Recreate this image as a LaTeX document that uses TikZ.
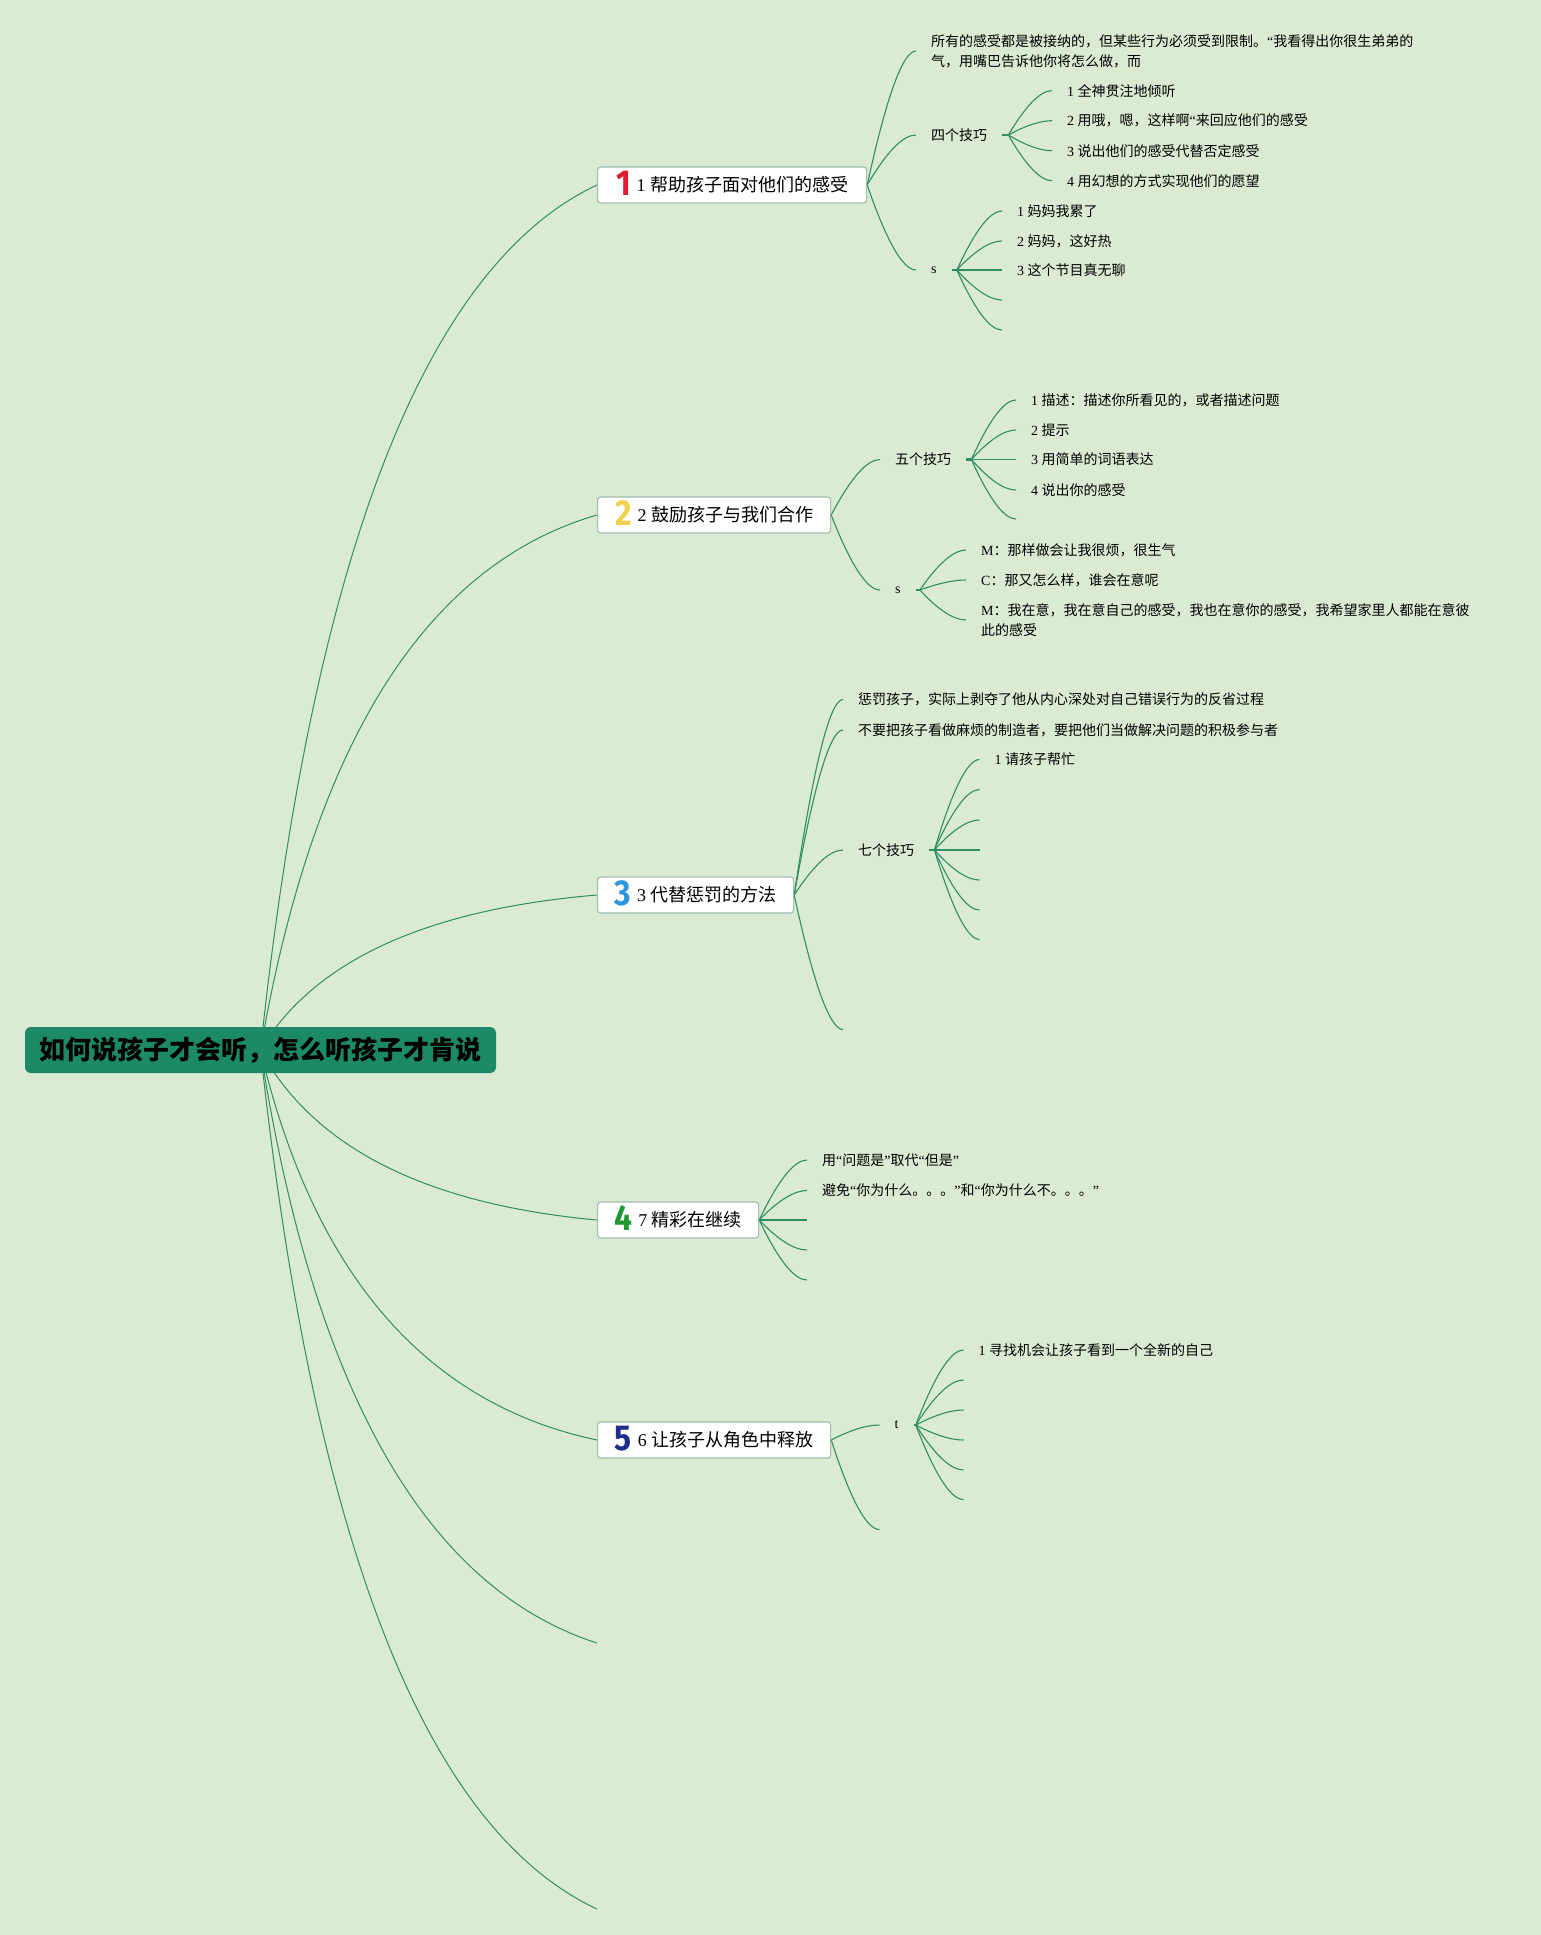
\documentclass[tikz,border=0pt]{standalone}
\usepackage{fontspec}
\usepackage{graphicx}
\setmainfont{Noto Sans CJK SC}
\newfontfamily\lt{Liberation Serif}
\newfontfamily\badgefont{Fira Sans}
\usetikzlibrary{calc}
\definecolor{bgc}{RGB}{219,234,210}
\definecolor{linec}{RGB}{46,143,98}
\definecolor{rootc}{RGB}{28,138,102}
\definecolor{boxborder}{RGB}{160,190,175}
\definecolor{bred}{RGB}{224,26,47}
\definecolor{byellow}{RGB}{242,208,74}
\definecolor{bblue}{RGB}{43,150,222}
\definecolor{bgreen}{RGB}{30,154,51}
\definecolor{bnavy}{RGB}{31,46,138}
\newcommand{\badge}[2]{\smash{\raisebox{-4pt}{\color{#1}\scalebox{0.88}[1]{\fontsize{36}{36}\selectfont\badgefont\bfseries #2}}}}
\pgfdeclarelayer{bgl}
\pgfdeclarelayer{lines}
\pgfsetlayers{bgl,lines,main}
\tikzset{
  rootbox/.style={fill=rootc, rounded corners=6pt, minimum width=471pt, minimum height=46pt, inner sep=0pt, font=\fontsize{26}{26}\selectfont\bfseries},
  topic/.style={draw=boxborder, fill=white, line width=1.2pt, rounded corners=3pt, minimum height=36pt, inner xsep=4pt, inner ysep=2pt, anchor=west, font=\fontsize{18}{22}\selectfont},
  leaf/.style={anchor=west, inner xsep=15pt, inner ysep=0pt, align=left, font=\fontsize{14}{20}\selectfont},
  mline/.style={draw=linec, line width=1pt, to path={let \p1=(\tikztostart),\p2=(\tikztotarget) in .. controls ({\x1+0.157*(\x2-\x1)},{\y1+0.574*(\y2-\y1)}) and ({\x2-0.509*(\x2-\x1)},{\y2+0.093*(\y1-\y2)}) .. (\tikztotarget)}},
  sline/.style={draw=linec, line width=1.1pt, to path={let \p1=(\tikztostart),\p2=(\tikztotarget) in .. controls ({\x1+0.4*(\x2-\x1)},{\y1+0.667*(\y2-\y1)}) and ({\x2-0.267*(\x2-\x1)},{\y2}) .. (\tikztotarget)}},
  stub/.style={draw=linec, line width=2.2pt},
}
\begin{document}
\begin{tikzpicture}[x=1pt,y=-1pt]
\useasboundingbox (0,0) rectangle (1541,1935);
\begin{pgfonlayer}{bgl}
\fill[bgc] (0,0) rectangle (1541,1935);
\end{pgfonlayer}

% root
\node[rootbox] (root) at (260.5,1050) {如何说孩子才会听，怎么听孩子才肯说};

% main topics
\node[topic, minimum width=269pt] (b1) at (597,185) {\badge{bred}{1}\hspace{6pt}{\lt 1 }帮助孩子面对他们的感受};
\node[topic, minimum width=233pt] (b2) at (597,515) {\badge{byellow}{2}\hspace{6pt}{\lt 2 }鼓励孩子与我们合作};
\node[topic, minimum width=196pt] (b3) at (597,895) {\badge{bblue}{3}\hspace{6pt}{\lt 3 }代替惩罚的方法};
\node[topic, minimum width=161pt] (b4) at (597,1220) {\badge{bgreen}{4}\hspace{6pt}{\lt 7 }精彩在继续};
\node[topic, minimum width=233pt] (b5) at (597,1440) {\badge{bnavy}{5}\hspace{6pt}{\lt 6 }让孩子从角色中释放};
\coordinate (e6) at (597,1643);
\coordinate (e7) at (597,1909);

% branch 1
\node[leaf] (n11) at (916,51) {所有的感受都是被接纳的，但某些行为必须受到限制。{\lt “}我看得出你很生弟弟的\\气，用嘴巴告诉他你将怎么做，而};
\node[leaf] (n12) at (916,135) {四个技巧};
\node[leaf] (n121) at (1052,90.7) {{\lt 1 }全神贯注地倾听};
\node[leaf] (n122) at (1052,120.7) {{\lt 2 }用哦，嗯，这样啊{\lt “}来回应他们的感受};
\node[leaf] (n123) at (1052,150.7) {{\lt 3 }说出他们的感受代替否定感受};
\node[leaf] (n124) at (1052,180.7) {{\lt 4 }用幻想的方式实现他们的愿望};
\node[leaf] (n13) at (916,270) {{\lt s}};
\node[leaf] (n131) at (1002,211) {{\lt 1 }妈妈我累了};
\node[leaf] (n132) at (1002,241) {{\lt 2 }妈妈，这好热};
\node[leaf] (n133) at (1002,270) {{\lt 3 }这个节目真无聊};
\coordinate (e134) at (1002,300);
\coordinate (e135) at (1002,330);

% branch 2
\node[leaf] (n21) at (880,459.5) {五个技巧};
\node[leaf] (n211) at (1016,400) {{\lt 1 }描述：描述你所看见的，或者描述问题};
\node[leaf] (n212) at (1016,430) {{\lt 2 }提示};
\node[leaf] (n213) at (1016,459.5) {{\lt 3 }用简单的词语表达};
\node[leaf] (n214) at (1016,490) {{\lt 4 }说出你的感受};
\coordinate (e215) at (1016,519);
\node[leaf] (n22) at (880,590) {{\lt s}};
\node[leaf] (n221) at (966,550) {{\lt M}：那样做会让我很烦，很生气};
\node[leaf] (n222) at (966,580) {{\lt C}：那又怎么样，谁会在意呢};
\node[leaf] (n223) at (966,620) {{\lt M}：我在意，我在意自己的感受，我也在意你的感受，我希望家里人都能在意彼\\此的感受};

% branch 3
\node[leaf] (n31) at (843,699.5) {惩罚孩子，实际上剥夺了他从内心深处对自己错误行为的反省过程};
\node[leaf] (n32) at (843,730) {不要把孩子看做麻烦的制造者，要把他们当做解决问题的积极参与者};
\node[leaf] (n33) at (843,850) {七个技巧};
\node[leaf] (n331) at (979.5,759.5) {{\lt 1 }请孩子帮忙};
\coordinate (e332) at (979.5,789.5);
\coordinate (e333) at (979.5,820);
\coordinate (e334) at (979.5,850);
\coordinate (e335) at (979.5,880);
\coordinate (e336) at (979.5,910);
\coordinate (e337) at (979.5,939.5);
\coordinate (e34) at (843,1029.5);

% branch 4
\node[leaf] (n41) at (807,1160) {用{\lt “}问题是{\lt ”}取代{\lt “}但是{\lt ”}};
\node[leaf] (n42) at (807,1190.5) {避免{\lt “}你为什么。。。{\lt ”}和{\lt “}你为什么不。。。{\lt ”}};
\coordinate (e43) at (807,1220);
\coordinate (e44) at (807,1250);
\coordinate (e45) at (807,1280);

% branch 5
\node[leaf] (n51) at (879.5,1425) {{\lt t}};
\node[leaf] (n511) at (963.5,1350) {{\lt 1 }寻找机会让孩子看到一个全新的自己};
\coordinate (e512) at (963.5,1380);
\coordinate (e513) at (963.5,1410);
\coordinate (e514) at (963.5,1440);
\coordinate (e515) at (963.5,1470);
\coordinate (e516) at (963.5,1499.5);
\coordinate (e52) at (879.5,1529.5);

% hubs
\coordinate (h12) at ($(n12.east)+(6,0)$);
\coordinate (h13) at ($(n13.east)+(5,0)$);
\coordinate (h21) at ($(n21.east)+(5,0)$);
\coordinate (h22) at ($(n22.east)+(4,0)$);
\coordinate (h33) at ($(n33.east)+(5,0)$);
\coordinate (h51) at ($(n51.east)+(2,0)$);

\begin{pgfonlayer}{lines}
% main connectors
\draw[mline] (root.center) to (b1.west);
\draw[mline] (root.center) to (b2.west);
\draw[mline] (root.center) to (b3.west);
\draw[mline] (root.center) to (b4.west);
\draw[mline] (root.center) to (b5.west);
\draw[mline] (root.center) to (e6);
\draw[mline] (root.center) to (e7);
% branch 1
\draw[sline] (b1.east) to (n11.west);
\draw[sline] (b1.east) to (n12.west);
\draw[sline] (b1.east) to (n13.west);
\draw[stub] (n12.east) -- (h12);
\draw[sline] (h12) to (n121.west);
\draw[sline] (h12) to (n122.west);
\draw[sline] (h12) to (n123.west);
\draw[sline] (h12) to (n124.west);
\draw[stub] (n13.east) -- (h13);
\draw[sline] (h13) to (n131.west);
\draw[sline] (h13) to (n132.west);
\draw[sline] (h13) to (n133.west);
\draw[sline] (h13) to (e134);
\draw[sline] (h13) to (e135);
% branch 2
\draw[sline] (b2.east) to (n21.west);
\draw[sline] (b2.east) to (n22.west);
\draw[stub] (n21.east) -- (h21);
\draw[sline] (h21) to (n211.west);
\draw[sline] (h21) to (n212.west);
\draw[sline] (h21) to (n213.west);
\draw[sline] (h21) to (n214.west);
\draw[sline] (h21) to (e215);
\draw[stub] (n22.east) -- (h22);
\draw[sline] (h22) to (n221.west);
\draw[sline] (h22) to (n222.west);
\draw[sline] (h22) to (n223.west);
% branch 3
\draw[sline] (b3.east) to (n31.west);
\draw[sline] (b3.east) to (n32.west);
\draw[sline] (b3.east) to (n33.west);
\draw[sline] (b3.east) to (e34);
\draw[stub] (n33.east) -- (h33);
\draw[sline] (h33) to (n331.west);
\draw[sline] (h33) to (e332);
\draw[sline] (h33) to (e333);
\draw[sline] (h33) to (e334);
\draw[sline] (h33) to (e335);
\draw[sline] (h33) to (e336);
\draw[sline] (h33) to (e337);
% branch 4
\draw[sline] (b4.east) to (n41.west);
\draw[sline] (b4.east) to (n42.west);
\draw[sline] (b4.east) to (e43);
\draw[sline] (b4.east) to (e44);
\draw[sline] (b4.east) to (e45);
% branch 5
\draw[sline] (b5.east) to (n51.west);
\draw[sline] (b5.east) to (e52);
\draw[stub] (n51.east) -- (h51);
\draw[sline] (h51) to (n511.west);
\draw[sline] (h51) to (e512);
\draw[sline] (h51) to (e513);
\draw[sline] (h51) to (e514);
\draw[sline] (h51) to (e515);
\draw[sline] (h51) to (e516);
\end{pgfonlayer}
\end{tikzpicture}
\end{document}
